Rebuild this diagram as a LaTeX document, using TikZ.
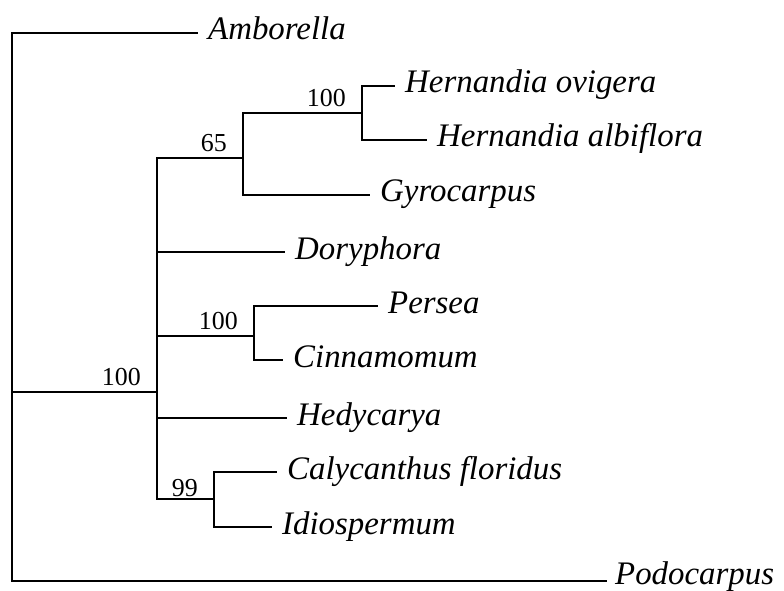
\documentclass[tikz,border=0pt]{standalone}
\usepackage{fontspec}
\setmainfont{Liberation Serif}
\tikzset{
  taxon/.style={
    anchor=west,
    font=\itshape\fontsize{33}{36}\selectfont,
    inner xsep=10bp,
    inner ysep=0pt,
    text height=22bp,
    text depth=8bp
  },
  support/.style={
    anchor=south east,
    font=\fontsize{26}{29}\selectfont,
    inner sep=0pt,
    xshift=-16bp,
    yshift=6bp
  },
  branch/.style={
    draw=black,
    line width=1.6bp
  }
}

\begin{document}
\begin{tikzpicture}[x=1bp,y=-1bp]
  \useasboundingbox (0,0) rectangle (784,591);

  % Internal nodes
  \coordinate (root) at (12,392);
  \coordinate (ingroup) at (157,392);
  \coordinate (gyrohern) at (243,158);
  \coordinate (hern) at (362,113);
  \coordinate (laur) at (254,336);
  \coordinate (calyc) at (214,499);

  % Tips
  \node[taxon] (amborella) at (198,33) {Amborella};
  \node[taxon] (ovigera) at (395,86) {Hernandia ovigera};
  \node[taxon] (albiflora) at (427,140) {Hernandia albiflora};
  \node[taxon] (gyrocarpus) at (370,195) {Gyrocarpus};
  \node[taxon] (doryphora) at (285,252) {Doryphora};
  \node[taxon] (persea) at (378,306) {Persea};
  \node[taxon] (cinnamomum) at (283,360) {Cinnamomum};
  \node[taxon] (hedycarya) at (287,418) {Hedycarya};
  \node[taxon] (calycanthus) at (277,472) {Calycanthus floridus};
  \node[taxon] (idiospermum) at (272,527) {Idiospermum};
  \node[taxon, inner xsep=8bp, text height=16bp, text depth=10bp]
    (podocarpus) at (607,581) {Podocarpus};

  % Branches
  \draw[branch] (root) |- (amborella.west);
  \draw[branch] (root) |- (ingroup);
  \draw[branch] (root) |- (podocarpus.west);

  \draw[branch] (ingroup) |- (gyrohern);
  \draw[branch] (ingroup) |- (doryphora.west);
  \draw[branch] (ingroup) |- (laur);
  \draw[branch] (ingroup) |- (hedycarya.west);
  \draw[branch] (ingroup) |- (calyc);

  \draw[branch] (gyrohern) |- (hern);
  \draw[branch] (gyrohern) |- (gyrocarpus.west);
  \draw[branch] (hern) |- (ovigera.west);
  \draw[branch] (hern) |- (albiflora.west);

  \draw[branch] (laur) |- (persea.west);
  \draw[branch] (laur) |- (cinnamomum.west);

  \draw[branch] (calyc) |- (calycanthus.west);
  \draw[branch] (calyc) |- (idiospermum.west);

  % Support values
  \node[support] (bsIngroup) at (ingroup) {100};
  \node[support] (bsGyroHern) at (gyrohern) {65};
  \node[support] (bsHern) at (hern) {100};
  \node[support] (bsLaur) at (laur) {100};
  \node[support, yshift=-4bp] (bsCalyc) at (calyc) {99};
\end{tikzpicture}
\end{document}
